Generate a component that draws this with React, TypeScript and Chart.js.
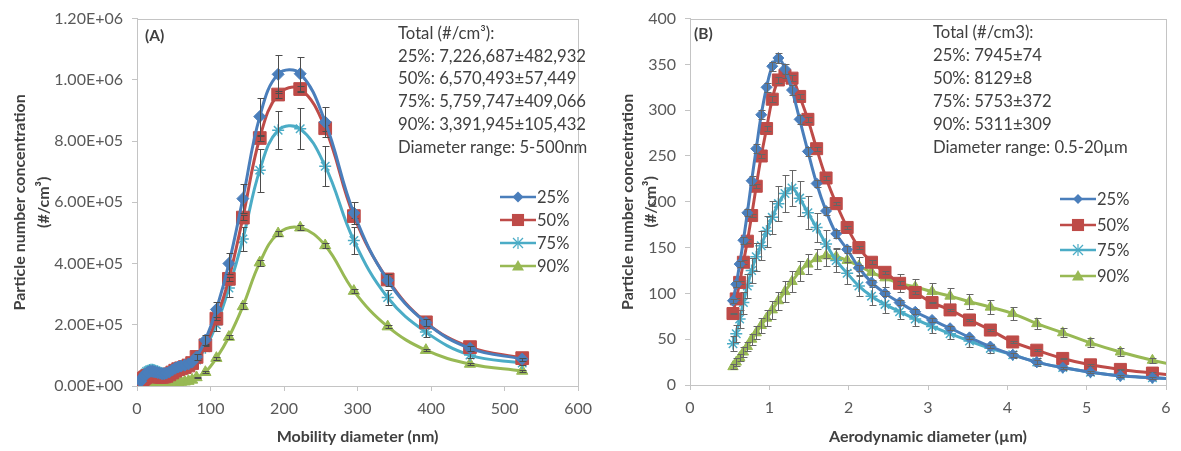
import React, { useEffect, useRef } from 'react';
import { Chart, registerables } from 'chart.js';

Chart.register(...registerables);

const FONT_FAMILY = 'Lato, "Open Sans", sans-serif';
const TEXT = '#404040';
const TICK_TEXT = '#595959';
const AXIS = '#c4c4c4';

const seriesLabels = ['25%', '50%', '75%', '90%'];
const seriesColors = ['#4A7EBB', '#BE4B48', '#4BACC6', '#98B954'];

// ---------- Panel A : mobility diameter (nm) ----------
const diameterA = [5, 7, 9, 11, 13, 15, 17, 19, 21, 23, 25, 28, 31, 34, 37, 40, 44, 48, 52, 56, 60, 65, 70, 75, 81, 93, 108, 125, 144, 167, 192, 222, 256, 295, 341, 393, 453, 524];
const conc25A = [15000, 25000, 32000, 38000, 42000, 45000, 47000, 48000, 48000, 47000, 46000, 44000, 42000, 40000, 40000, 42000, 46000, 52000, 58000, 62000, 65000, 68000, 72000, 78000, 95000, 150000, 250000, 400000, 612000, 880000, 1018000, 1020000, 862000, 565000, 345000, 207000, 123000, 88000];
const conc50A = [10000, 18000, 24000, 28000, 31000, 33000, 34000, 35000, 35000, 34000, 33000, 31000, 30000, 30000, 31000, 33000, 38000, 44000, 50000, 55000, 58000, 62000, 67000, 75000, 95000, 133000, 220000, 350000, 550000, 810000, 952000, 970000, 842000, 555000, 348000, 208000, 127000, 91000];
const conc75A = [15000, 25000, 35000, 42000, 47000, 50000, 52000, 53000, 53000, 52000, 50000, 47000, 44000, 42000, 41000, 42000, 45000, 50000, 54000, 57000, 60000, 63000, 67000, 72000, 85000, 125000, 200000, 320000, 480000, 705000, 835000, 840000, 718000, 475000, 289000, 176000, 101000, 75000];
const conc90A = [3000, 6000, 9000, 11000, 12000, 13000, 13000, 13000, 12000, 11000, 10000, 9000, 8000, 8000, 8000, 8000, 9000, 10000, 11000, 12000, 13000, 14000, 16000, 20000, 28000, 45000, 91000, 160000, 260000, 403000, 498000, 517000, 459000, 310000, 194000, 117000, 72000, 49000];
const err25A = [0, 0, 0, 0, 0, 0, 0, 0, 0, 0, 0, 0, 0, 0, 0, 0, 0, 0, 0, 0, 0, 0, 0, 0, 10000, 15000, 25000, 35000, 48000, 62000, 62000, 56000, 50000, 35000, 20000, 12000, 8000, 5000];
const err50A = [0, 0, 0, 0, 0, 0, 0, 0, 0, 0, 0, 0, 0, 0, 0, 0, 0, 0, 0, 0, 0, 0, 0, 0, 2000, 3000, 4000, 6000, 8000, 10000, 10000, 10000, 9000, 7000, 5000, 4000, 3000, 2000];
const err75A = [0, 0, 0, 0, 0, 0, 0, 0, 0, 0, 0, 0, 0, 0, 0, 0, 0, 0, 0, 0, 0, 0, 0, 0, 8000, 12000, 20000, 30000, 40000, 70000, 62000, 67000, 66000, 45000, 25000, 15000, 8000, 5000];
const err90A = [0, 0, 0, 0, 0, 0, 0, 0, 0, 0, 0, 0, 0, 0, 0, 0, 0, 0, 0, 0, 0, 0, 0, 0, 3000, 4000, 5000, 8000, 10000, 10000, 8000, 8000, 8000, 6000, 5000, 4000, 3000, 2000];
const xTickLabelsA = ['0', '100', '200', '300', '400', '500', '600'];
const yTickLabelsA = ['0.00E+00', '2.00E+05', '4.00E+05', '6.00E+05', '8.00E+05', '1.00E+06', '1.20E+06'];
const xTitleA = 'Mobility diameter (nm)';
const yTitleA = ['Particle number concentration', '(#/cm\u00B3)'];
const panelLabelA = '(A)';
const annotationA = [
  'Total (#/cm\u00B3):',
  '25%: 7,226,687\u00B1482,932',
  '50%: 6,570,493\u00B157,449',
  '75%: 5,759,747\u00B1409,066',
  '90%: 3,391,945\u00B1105,432',
  'Diameter range: 5-500nm',
];

// ---------- Panel B : aerodynamic diameter (um) ----------
const diameterB = [0.542, 0.583, 0.626, 0.673, 0.723, 0.777, 0.835, 0.898, 0.965, 1.037, 1.114, 1.197, 1.286, 1.382, 1.486, 1.596, 1.715, 1.843, 1.981, 2.129, 2.288, 2.458, 2.642, 2.839, 3.051, 3.278, 3.523, 3.786, 4.068, 4.371, 4.698, 5.048, 5.425, 5.829, 6.264];
const conc25B = [92, 110, 132, 158, 188, 223, 258, 295, 325, 348, 357, 345, 322, 290, 255, 220, 190, 165, 148, 128, 112, 100, 90, 80, 71, 62, 52, 42, 33, 25, 19, 14, 10, 8, 6];
const conc50B = [78, 94, 112, 134, 157, 185, 217, 250, 280, 312, 333, 338, 335, 315, 290, 258, 226, 198, 172, 150, 134, 123, 111, 101, 90, 82, 71, 60, 47, 38, 29, 22, 17, 13, 9];
const conc75B = [45, 56, 72, 90, 108, 125, 140, 152, 168, 183, 198, 209, 215, 204, 188, 172, 154, 136, 122, 108, 97, 88, 80, 72, 64, 56, 48, 40, 33, 25, 19, 14, 10, 8, 6];
const conc90B = [20, 25, 30, 36, 42, 50, 57, 65, 73, 82, 92, 102, 113, 124, 132, 138, 141, 140, 136, 130, 123, 117, 111, 107, 102, 97, 91, 85, 78, 67, 57, 46, 36, 27, 19];
const err25B = [2, 3, 3, 4, 4, 5, 5, 5, 5, 5, 5, 5, 5, 5, 5, 4, 4, 4, 4, 3, 3, 3, 3, 3, 2, 2, 2, 2, 2, 2, 1, 1, 1, 1, 1];
const err50B = [1, 1, 2, 2, 2, 2, 2, 2, 3, 3, 3, 3, 3, 3, 3, 2, 2, 2, 2, 2, 2, 2, 2, 2, 1, 1, 1, 1, 1, 1, 1, 1, 1, 1, 1];
const err75B = [8, 9, 10, 12, 13, 14, 15, 16, 17, 18, 19, 20, 20, 19, 18, 16, 15, 13, 12, 11, 10, 9, 8, 8, 7, 6, 6, 5, 4, 4, 3, 3, 2, 2, 2];
const err90B = [3, 4, 4, 5, 5, 6, 7, 8, 9, 10, 10, 11, 11, 11, 11, 11, 11, 10, 10, 10, 10, 10, 10, 9, 9, 9, 8, 8, 7, 6, 5, 5, 4, 3, 3];
const xTickLabelsB = ['0', '1', '2', '3', '4', '5', '6'];
const yTickLabelsB = ['0', '50', '100', '150', '200', '250', '300', '350', '400'];
const xTitleB = 'Aerodynamic diameter (\u00B5m)';
const yTitleB = ['Particle number concentration', '(#/cm\u00B3)'];
const panelLabelB = '(B)';
const annotationB = [
  'Total (#/cm3):',
  '25%: 7945\u00B174',
  '50%: 8129\u00B18',
  '75%: 5753\u00B1372',
  '90%: 5311\u00B1309',
  'Diameter range: 0.5-20\u00B5m',
];

const pointStyles = ['rectRot', 'rect', 'star', 'triangle'];

const errorBarPlugin = {
  id: 'errorBars',
  afterDatasetDraw(chart: any, args: any, opts: any) {
    const ds = chart.data.datasets[args.index];
    const errs: number[] | undefined = ds.errors;
    if (!errs) return;
    const { ctx, chartArea } = chart;
    const yScale = chart.scales.y;
    ctx.save();
    ctx.beginPath();
    ctx.rect(chartArea.left, chartArea.top, chartArea.right - chartArea.left, chartArea.bottom - chartArea.top);
    ctx.clip();
    ctx.strokeStyle = ds.errorColor || '#555555';
    ctx.lineWidth = 1;
    args.meta.data.forEach((pt: any, j: number) => {
      const e = errs[j];
      if (!e) return;
      const v = ds.data[j].y;
      const yt = Math.round(yScale.getPixelForValue(v + e)) + 0.5;
      const yb = Math.round(yScale.getPixelForValue(v - e)) + 0.5;
      const x = Math.round(pt.x) + 0.5;
      ctx.beginPath();
      ctx.moveTo(x, yt);
      ctx.lineTo(x, yb);
      ctx.moveTo(x - 3, yt);
      ctx.lineTo(x + 4, yt);
      ctx.moveTo(x - 3, yb);
      ctx.lineTo(x + 4, yb);
      ctx.stroke();
    });
    ctx.restore();
  },
};

const boxPlugin = {
  id: 'plotBox',
  beforeDatasetsDraw(chart: any) {
    const { ctx, chartArea } = chart;
    ctx.save();
    ctx.strokeStyle = AXIS;
    ctx.lineWidth = 1;
    ctx.strokeRect(
      Math.round(chartArea.left) + 0.5,
      Math.round(chartArea.top) + 0.5,
      Math.round(chartArea.right - chartArea.left),
      Math.round(chartArea.bottom - chartArea.top)
    );
    ctx.restore();
  },
};

type PanelSpec = {
  xs: number[];
  series: number[][];
  errors: number[][];
  xMax: number;
  xStep: number;
  yMax: number;
  yStep: number;
  xTicks: string[];
  yTicks: string[];
  xTitle: string;
  yTitle: string[];
  padding: { left: number; right: number; top: number; bottom: number };
  yWidth: number;
  xHeight: number;
  yTitlePad: number;
  yTitleLineHeight: number;
  radii: number[];
  lineWidth: number;
  errorColor: string;
};

function buildConfig(p: PanelSpec): any {
  const datasets = p.series.map((vals, i) => ({
    label: seriesLabels[i],
    data: p.xs.map((x, j) => ({ x, y: vals[j] })),
    errors: p.errors[i],
    errorColor: p.errorColor,
    borderColor: seriesColors[i],
    backgroundColor: seriesColors[i],
    pointBackgroundColor: seriesColors[i],
    pointBorderColor: seriesColors[i],
    pointBorderWidth: pointStyles[i] === 'star' ? 1.5 : 1,
    pointStyle: pointStyles[i],
    pointRadius: p.radii[i],
    borderWidth: p.lineWidth,
    tension: 0.4,
    showLine: true,
    fill: false,
  }));
  const tickFont = { family: FONT_FAMILY, size: 16 };
  const titleFont = { family: FONT_FAMILY, size: 16, weight: 'bold' as const };
  return {
    type: 'scatter',
    data: { datasets },
    plugins: [boxPlugin, errorBarPlugin],
    options: {
      animation: false,
      responsive: false,
      maintainAspectRatio: false,
      layout: { padding: p.padding },
      plugins: { legend: { display: false }, tooltip: { enabled: false } },
      scales: {
        x: {
          type: 'linear',
          min: 0,
          max: p.xMax,
          ticks: {
            stepSize: p.xStep,
            font: tickFont,
            color: TICK_TEXT,
            padding: 8,
            maxRotation: 0,
            callback: (_v: any, idx: number) => p.xTicks[idx],
          },
          grid: { display: true, drawOnChartArea: false, drawTicks: true, tickLength: 5, color: AXIS },
          border: { display: true, color: AXIS },
          title: {
            display: true,
            text: p.xTitle,
            font: titleFont,
            color: TEXT,
            padding: { top: 0, bottom: 5 },
          },
          afterFit: (s: any) => {
            s.height = p.xHeight;
          },
        },
        y: {
          type: 'linear',
          min: 0,
          max: p.yMax,
          ticks: {
            stepSize: p.yStep,
            font: tickFont,
            color: TICK_TEXT,
            padding: 9,
            callback: (_v: any, idx: number) => p.yTicks[idx],
          },
          grid: { display: true, drawOnChartArea: false, drawTicks: true, tickLength: 5, color: AXIS },
          border: { display: true, color: AXIS },
          title: {
            display: true,
            text: p.yTitle,
            font: { ...titleFont, lineHeight: p.yTitleLineHeight },
            color: TEXT,
            padding: { top: p.yTitlePad, bottom: 0 },
          },
          afterFit: (s: any) => {
            s.width = p.yWidth;
          },
        },
      },
    },
  };
}

const specA: PanelSpec = {
  xs: diameterA,
  series: [conc25A, conc50A, conc75A, conc90A],
  errors: [err25A, err50A, err75A, err90A],
  xMax: 600,
  xStep: 100,
  yMax: 1200000,
  yStep: 200000,
  xTicks: xTickLabelsA,
  yTicks: yTickLabelsA,
  xTitle: xTitleA,
  yTitle: yTitleA,
  padding: { left: 0, right: 7, top: 17, bottom: 0 },
  yWidth: 137,
  xHeight: 65,
  yTitlePad: 8,
  yTitleLineHeight: 24 / 16,
  radii: [6, 9, 6, 6.5],
  lineWidth: 3,
  errorColor: '#4d4d4d',
};

const specB: PanelSpec = {
  xs: diameterB,
  series: [conc25B, conc50B, conc75B, conc90B],
  errors: [err25B, err50B, err75B, err90B],
  xMax: 6,
  xStep: 1,
  yMax: 400,
  yStep: 50,
  xTicks: xTickLabelsB,
  yTicks: yTickLabelsB,
  xTitle: xTitleB,
  yTitle: yTitleB,
  padding: { left: 0, right: 15, top: 17, bottom: 0 },
  yWidth: 90,
  xHeight: 66,
  yTitlePad: 16,
  yTitleLineHeight: 23 / 16,
  radii: [5.5, 8.5, 6, 6],
  lineWidth: 3,
  errorColor: '#666666',
};

function ChartCanvas({ spec, left, width }: { spec: PanelSpec; left: number; width: number }) {
  const ref = useRef<HTMLCanvasElement | null>(null);
  useEffect(() => {
    if (!ref.current) return;
    const chart = new Chart(ref.current, buildConfig(spec));
    return () => chart.destroy();
  }, [spec]);
  return (
    <canvas
      ref={ref}
      width={width}
      height={451}
      style={{ position: 'absolute', left, top: 0, width, height: 451 }}
    />
  );
}

function LegendMarker({ kind, color, size }: { kind: number; color: string; size: number }) {
  const cx = 18;
  const cy = 7;
  if (kind === 0) {
    const r = size * 0.55;
    return <polygon points={`${cx},${cy - r} ${cx + r},${cy} ${cx},${cy + r} ${cx - r},${cy}`} fill={color} />;
  }
  if (kind === 1) {
    const h = size * 0.55;
    return <rect x={cx - h} y={cy - h} width={2 * h} height={2 * h} fill={color} />;
  }
  if (kind === 2) {
    const r = size * 0.5;
    return (
      <g stroke={color} strokeWidth={1.2}>
        <line x1={cx - r} y1={cy - r} x2={cx + r} y2={cy + r} />
        <line x1={cx - r} y1={cy + r} x2={cx + r} y2={cy - r} />
        <line x1={cx} y1={cy - r - 1} x2={cx} y2={cy + r + 1} />
      </g>
    );
  }
  const r = size * 0.6;
  return <polygon points={`${cx},${cy - r} ${cx + r},${cy + r * 0.75} ${cx - r},${cy + r * 0.75}`} fill={color} />;
}

function Legend({ left, top, step, sizes }: { left: number; top: number; step: number; sizes: number[] }) {
  return (
    <div style={{ position: 'absolute', left, top, fontFamily: FONT_FAMILY, fontSize: 16.5, color: TEXT }}>
      {seriesLabels.map((lab, i) => (
        <div key={lab} style={{ position: 'absolute', left: 0, top: i * step, height: 20, display: 'flex', alignItems: 'center', whiteSpace: 'nowrap' }}>
          <svg width={36} height={14} style={{ display: 'block' }}>
            <line x1={0} y1={7} x2={36} y2={7} stroke={seriesColors[i]} strokeWidth={2.5} />
            <LegendMarker kind={i} color={seriesColors[i]} size={sizes[i]} />
          </svg>
          <span style={{ marginLeft: 1, lineHeight: '20px' }}>{lab}</span>
        </div>
      ))}
    </div>
  );
}

function Annotation({ left, top, lines, lineHeight }: { left: number; top: number; lines: string[]; lineHeight: number }) {
  return (
    <div style={{ position: 'absolute', left, top, fontFamily: FONT_FAMILY, fontSize: 16.7, color: TEXT, lineHeight: `${lineHeight}px`, whiteSpace: 'nowrap' }}>
      {lines.map((l, i) => (
        <div key={i}>{l}</div>
      ))}
    </div>
  );
}

export default function App() {
  return (
    <div style={{ position: 'absolute', left: 0, top: 0, width: 1181, height: 451, background: '#ffffff', overflow: 'hidden' }}>
      <ChartCanvas spec={specA} left={0} width={600} />
      <ChartCanvas spec={specB} left={600} width={581} />
      <div style={{ position: 'absolute', left: 145, top: 25, fontFamily: FONT_FAMILY, fontSize: 15.5, fontWeight: 'bold', color: TEXT, lineHeight: '20px' }}>{panelLabelA}</div>
      <div style={{ position: 'absolute', left: 694, top: 23, fontFamily: FONT_FAMILY, fontSize: 15.5, fontWeight: 'bold', color: TEXT, lineHeight: '20px' }}>{panelLabelB}</div>
      <Annotation left={398} top={22} lines={annotationA} lineHeight={22.7} />
      <Annotation left={933} top={21} lines={annotationB} lineHeight={23} />
      <Legend left={500} top={187} step={23} sizes={[10, 11, 10, 10]} />
      <Legend left={1060} top={189} step={25.5} sizes={[9, 11, 10, 10]} />
    </div>
  );
}
